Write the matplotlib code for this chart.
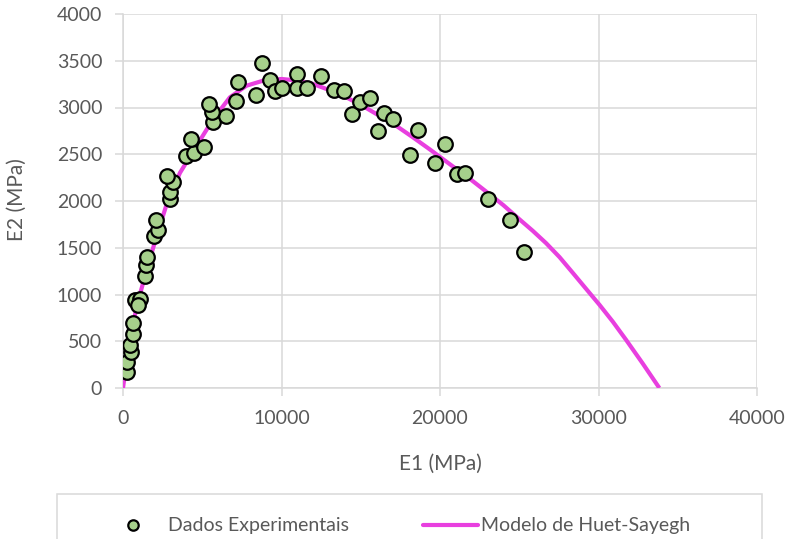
import matplotlib
matplotlib.use("Agg")
import matplotlib.pyplot as plt
from matplotlib.patches import Rectangle
from matplotlib.lines import Line2D

# Experimental storage (E1) and loss (E2) moduli, MPa
e1_exp = [230, 270, 480, 440, 650, 650, 760, 1070, 970, 1390, 1450, 1490,
          1950, 2230, 2080, 2960, 2960, 3170, 2750, 3970, 4470, 5100, 4270,
          5690, 6490, 5630, 5440, 7160, 7230, 8380, 8800, 9300, 9580, 10060,
          10990, 10990, 11620, 12520, 13300, 13930, 14470, 14930, 15610,
          16090, 16450, 17030, 18610, 18080, 20290, 19660, 21090, 21550,
          23020, 24430, 25270]
e2_exp = [175, 282, 390, 461, 579, 694, 940, 950, 885, 1195, 1312, 1402,
          1631, 1685, 1795, 2017, 2100, 2207, 2267, 2485, 2515, 2578, 2668,
          2847, 2904, 2954, 3036, 3073, 3270, 3137, 3476, 3294, 3180, 3208,
          3358, 3205, 3205, 3333, 3190, 3180, 2930, 3061, 3097,
          2750, 2940, 2875, 2761, 2493, 2607, 2411, 2285, 2296,
          2017, 1795, 1452]

# Huet-Sayegh model curve in the Cole-Cole plane, MPa
e1_model = [0, 335, 860, 1490, 2120, 2750, 3590, 4640, 5690, 6740, 7790,
            8840, 10000, 10940, 12000, 13040, 14100, 15140, 16190, 17240,
            18300, 19340, 20810, 21900, 22920, 24000, 25020, 25860, 26700,
            27540, 28380, 29220, 30060, 30900, 31740, 32790, 33840]
e2_model = [0, 408, 872, 1260, 1624, 1963, 2300, 2590, 2876, 3108, 3233,
            3287, 3305, 3290, 3251, 3185, 3108, 3015, 2910, 2804,
            2680, 2554, 2370, 2235, 2100, 1955, 1803, 1680, 1548,
            1400, 1231, 1060, 890, 710, 515, 262, 0]

x_ticks = [0, 10000, 20000, 30000, 40000]
y_ticks = [0, 500, 1000, 1500, 2000, 2500, 3000, 3500, 4000]

label_exp = "Dados Experimentais"
label_model = "Modelo de Huet-Sayegh"

FONT = "Lato"
TXT = "#595959"
GRID = "#d9d9d9"
MAGENTA = "#e83fdf"
GREEN = "#a6d08b"

W, H = 791, 539
fig = plt.figure(figsize=(W / 100, H / 100), dpi=100)
ax = fig.add_axes([123 / W, 1 - 388 / H, (757 - 123) / W, (388 - 14) / H])

ax.plot(e1_model, e2_model, color=MAGENTA, lw=3.0, solid_joinstyle="round",
        solid_capstyle="butt", zorder=3)
ax.plot(e1_exp, e2_exp, linestyle="none", marker="o", markersize=10.5,
        markerfacecolor=GREEN, markeredgecolor="black", markeredgewidth=1.6,
        zorder=4)

ax.set_xlim(0, 40000)
ax.set_ylim(0, 4000)
ax.set_xticks(x_ticks)
ax.set_yticks(y_ticks)
ax.grid(True, color=GRID, lw=1.1, zorder=0)
ax.set_axisbelow(True)
for side in ("top", "right"):
    ax.spines[side].set_visible(False)
for side in ("left", "bottom"):
    ax.spines[side].set_color(GRID)
    ax.spines[side].set_linewidth(1.1)
ax.tick_params(axis="both", colors=GRID, length=6, width=1.1,
               labelcolor=TXT, labelsize=14)
ax.tick_params(axis="y", pad=9)
ax.tick_params(axis="x", pad=10)
for lab in ax.get_xticklabels() + ax.get_yticklabels():
    lab.set_fontfamily(FONT)

# Axis titles
fig.text(440 / W, 1 - 464 / H, "E1 (MPa)", fontsize=15, color=TXT,
         family=FONT, ha="center", va="center")
fig.text(17 / W, 1 - 200 / H, "E2 (MPa)", fontsize=15, color=TXT,
         family=FONT, ha="center", va="center", rotation=90)

# Legend box along the bottom edge
over = fig.add_axes([0, 0, 1, 1], facecolor="none")
over.set_xlim(0, W)
over.set_ylim(H, 0)
over.axis("off")
over.add_patch(Rectangle((57, 494), 762 - 57, 60, facecolor="white",
                         edgecolor=GRID, lw=1.1, clip_on=False))
over.add_line(Line2D([133], [525], marker="o", markersize=7.5,
                     markerfacecolor=GREEN, markeredgecolor="black",
                     markeredgewidth=1.6, linestyle="none"))
over.text(168, 525, label_exp, fontsize=14, color=TXT, family=FONT,
          ha="left", va="center")
over.add_line(Line2D([423, 478], [525, 525], color=MAGENTA, lw=3.0,
                     solid_capstyle="round"))
over.text(481, 525, label_model, fontsize=14, color=TXT, family=FONT,
          ha="left", va="center")

fig.savefig("out.png", dpi=100, facecolor="white")
